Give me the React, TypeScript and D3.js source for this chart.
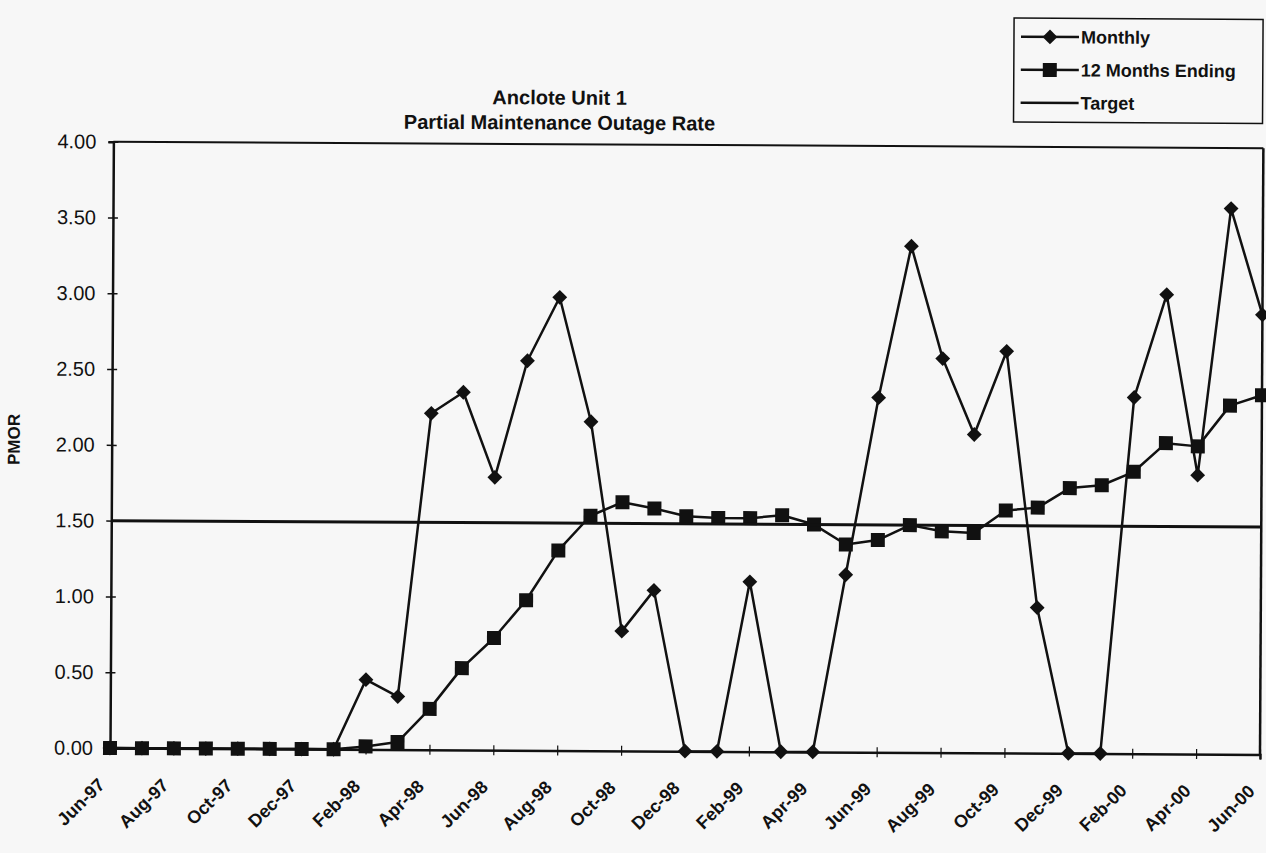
import { useEffect, useRef } from 'react'
import * as d3 from 'd3'

const MONTHS = [
  'Jun-97', 'Jul-97', 'Aug-97', 'Sep-97', 'Oct-97', 'Nov-97', 'Dec-97',
  'Jan-98', 'Feb-98', 'Mar-98', 'Apr-98', 'May-98', 'Jun-98', 'Jul-98', 'Aug-98', 'Sep-98', 'Oct-98', 'Nov-98', 'Dec-98',
  'Jan-99', 'Feb-99', 'Mar-99', 'Apr-99', 'May-99', 'Jun-99', 'Jul-99', 'Aug-99', 'Sep-99', 'Oct-99', 'Nov-99', 'Dec-99',
  'Jan-00', 'Feb-00', 'Mar-00', 'Apr-00', 'May-00', 'Jun-00',
]
const X_LABELS = MONTHS.filter((_, i) => i % 2 === 0)

const MONTHLY = [
  0, 0, 0, 0, 0, 0, 0,
  0, 0.46, 0.35, 2.22, 2.36, 1.8, 2.57, 2.99, 2.17, 0.79, 1.06, 0,
  0, 1.12, 0, 0, 1.17, 2.34, 3.34, 2.6, 2.1, 2.65, 0.96, 0,
  0, 2.35, 3.03, 1.84, 3.6, 2.9,
]
const TWELVE_MONTHS = [
  0, 0, 0, 0, 0, 0, 0,
  0, 0.02, 0.05, 0.27, 0.54, 0.74, 0.99, 1.32, 1.55, 1.64, 1.6, 1.55,
  1.54, 1.54, 1.56, 1.5, 1.37, 1.4, 1.5, 1.46, 1.45, 1.6, 1.62, 1.75,
  1.77, 1.86, 2.05, 2.03, 2.3, 2.37,
]
const TARGET = 1.5
const Y_TICKS = [0, 0.5, 1, 1.5, 2, 2.5, 3, 3.5, 4]

const LEFT = 110
const RIGHT = 1260
const TOP = 141.7
const BOTTOM = 748
const SKEW = 0.32 // the scan is turned a little clockwise
const FONT = "'Liberation Sans', Arial, Helvetica, sans-serif"
const INK = '#111'

export default function App() {
  const svgRef = useRef<SVGSVGElement>(null)

  useEffect(() => {
    const svg = svgRef.current
    if (!svg) return
    const sel = d3.select(svg)
    sel.selectAll('*').remove()

    sel.append('rect').attr('width', 1266).attr('height', 853).attr('fill', '#f7f7f7')

    const root = sel.append('g').attr('transform', `rotate(${SKEW} ${LEFT} ${BOTTOM})`)

    const x = d3.scalePoint<string>().domain(MONTHS).range([LEFT, RIGHT])
    const y = d3.scaleLinear().domain([0, 4]).range([BOTTOM, TOP])

    // title
    root.append('text')
      .attr('x', 556).attr('y', 102)
      .attr('text-anchor', 'middle')
      .attr('font-family', FONT).attr('font-weight', 'bold').attr('font-size', 20)
      .attr('fill', INK)
      .text('Anclote Unit 1')
    root.append('text')
      .attr('x', 556).attr('y', 127)
      .attr('text-anchor', 'middle')
      .attr('font-family', FONT).attr('font-weight', 'bold').attr('font-size', 20)
      .attr('fill', INK)
      .text('Partial Maintenance Outage Rate')

    // frame
    root.append('line').attr('x1', LEFT).attr('x2', RIGHT).attr('y1', TOP).attr('y2', TOP)
      .attr('stroke', INK).attr('stroke-width', 2)
    root.append('line').attr('x1', RIGHT).attr('x2', RIGHT).attr('y1', TOP).attr('y2', BOTTOM)
      .attr('stroke', INK).attr('stroke-width', 2.5)

    // y axis
    const yAxis = d3.axisLeft(y).tickValues(Y_TICKS).tickFormat(d3.format('.2f')).tickSize(5).tickPadding(12)
    root.append('g')
      .attr('transform', `translate(${LEFT},0)`)
      .call(yAxis)
      .call((g) => g.select('.domain').attr('stroke', INK).attr('stroke-width', 2.5))
      .call((g) => g.selectAll('.tick line').attr('x1', 5).attr('stroke', INK).attr('stroke-width', 1.5))
      .call((g) => g.selectAll('.tick text').attr('fill', INK).attr('font-size', 20).attr('font-family', FONT))

    root.append('text')
      .attr('transform', `translate(18,440) rotate(-90)`)
      .attr('text-anchor', 'middle')
      .attr('font-family', FONT).attr('font-weight', 'bold').attr('font-size', 17)
      .attr('fill', INK)
      .text('PMOR')

    // x axis
    const xAxis = d3.axisBottom(x).tickValues(X_LABELS).tickSize(5).tickFormat(() => '')
    root.append('g')
      .attr('transform', `translate(0,${BOTTOM})`)
      .call(xAxis)
      .call((g) => g.select('.domain').attr('stroke', INK).attr('stroke-width', 2.5))
      .call((g) => g.selectAll('.tick line').attr('y1', -5).attr('stroke', INK).attr('stroke-width', 1.2))

    X_LABELS.forEach((m) => {
      root.append('text')
        .attr('transform', `translate(${(x(m) ?? 0) - 4},${BOTTOM + 38}) rotate(-45)`)
        .attr('text-anchor', 'end')
        .attr('font-family', FONT).attr('font-weight', 'bold').attr('font-size', 18)
        .attr('fill', INK)
        .text(m)
    })

    // series
    const line = d3.line<number>().x((_, i) => x(MONTHS[i]) ?? 0).y((d) => y(d))
    const diamond = d3.symbol().type(d3.symbolDiamond2).size(140)

    root.append('path').datum(MONTHLY).attr('d', line)
      .attr('fill', 'none').attr('stroke', INK).attr('stroke-width', 2.5).attr('stroke-linejoin', 'round')
    root.append('g').selectAll('path').data(MONTHLY).join('path')
      .attr('d', diamond)
      .attr('transform', (d, i) => `translate(${x(MONTHS[i])},${y(d)})`)
      .attr('fill', INK)

    root.append('path').datum(TWELVE_MONTHS).attr('d', line)
      .attr('fill', 'none').attr('stroke', INK).attr('stroke-width', 2.5).attr('stroke-linejoin', 'round')
    root.append('g').selectAll('rect').data(TWELVE_MONTHS).join('rect')
      .attr('x', (d, i) => (x(MONTHS[i]) ?? 0) - 7)
      .attr('y', (d) => y(d) - 7)
      .attr('width', 14).attr('height', 14)
      .attr('fill', INK)

    root.append('line')
      .attr('x1', x(MONTHS[0]) ?? 0).attr('x2', x(MONTHS[MONTHS.length - 1]) ?? 0)
      .attr('y1', y(TARGET)).attr('y2', y(TARGET))
      .attr('stroke', INK).attr('stroke-width', 3)

    // legend
    const lg = root.append('g')
    lg.append('rect').attr('x', 1010).attr('y', 13).attr('width', 249).attr('height', 104)
      .attr('fill', 'none').attr('stroke', INK).attr('stroke-width', 1.5)
    const items = [
      { label: 'Monthly', marker: 'diamond' },
      { label: '12 Months Ending', marker: 'square' },
      { label: 'Target', marker: 'none' },
    ]
    items.forEach((item, i) => {
      const cy = 31.7 + i * 33
      lg.append('line').attr('x1', 1017).attr('x2', 1075).attr('y1', cy).attr('y2', cy)
        .attr('stroke', INK).attr('stroke-width', 2.5)
      if (item.marker === 'diamond') {
        lg.append('path').attr('d', diamond).attr('transform', `translate(1046,${cy})`).attr('fill', INK)
      } else if (item.marker === 'square') {
        lg.append('rect').attr('x', 1039).attr('y', cy - 7).attr('width', 14).attr('height', 14).attr('fill', INK)
      }
      lg.append('text')
        .attr('x', 1077).attr('y', cy).attr('dy', '0.35em')
        .attr('font-family', FONT).attr('font-weight', 'bold').attr('font-size', 18)
        .attr('fill', INK)
        .text(item.label)
    })
  }, [])

  return (
    <svg
      ref={svgRef}
      width={1266}
      height={853}
      style={{ position: 'absolute', left: 0, top: 0, display: 'block' }}
    />
  )
}
